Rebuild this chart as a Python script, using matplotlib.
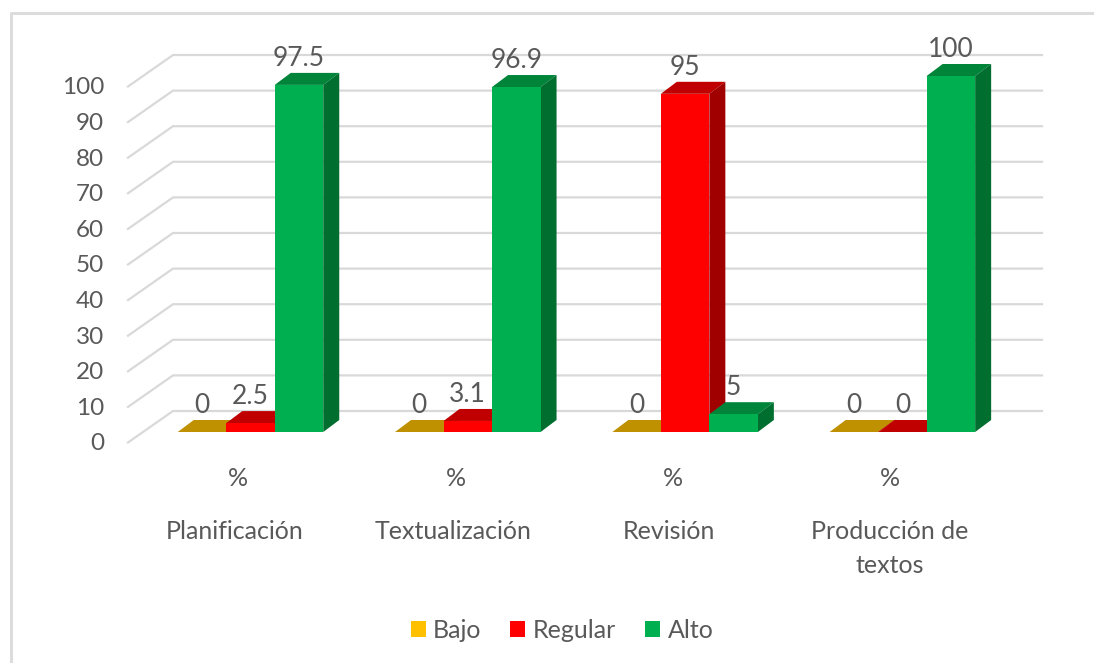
import matplotlib
matplotlib.use("Agg")
import matplotlib.pyplot as plt
from matplotlib.patches import Polygon, Patch
from matplotlib.lines import Line2D

categories = ["Planificación", "Textualización", "Revisión", "Producción de\ntextos"]
sublabels = ["%", "%", "%", "%"]
series_names = ["Bajo", "Regular", "Alto"]
bajo = [0, 0, 0, 0]
regular = [2.5, 3.1, 95, 0]
alto = [97.5, 96.9, 5, 100]
y_ticks = [0, 10, 20, 30, 40, 50, 60, 70, 80, 90, 100]

front_colors = ["#FFC000", "#FF0000", "#00B050"]
top_colors = ["#BF9000", "#C00000", "#00843A"]
side_colors = ["#BF9000", "#A00000", "#006E2E"]
text_color = "#595959"
grid_color = "#D9D9D9"

plt.rcParams["font.family"] = ["Lato", "DejaVu Sans"]

W, H = 1094, 663
# scale of the front plane, in pixels
PX_CAT = 217.3
PX_VAL = 3.56
X0, Y0 = 250.5, 432

fig = plt.figure(figsize=(W / 100, H / 100), dpi=100)
ax = fig.add_axes([0, 0, 1, 1])
ax.set_xlim(-X0 / PX_CAT, (W - X0) / PX_CAT)
ax.set_ylim((Y0 - H) / PX_VAL, Y0 / PX_VAL)
ax.axis("off")

# frame of the chart area
fig.add_artist(Line2D([11 / W, 11 / W, 1], [0, 1 - 13 / H, 1 - 13 / H], color="#DCDCDC", lw=2.2))

# fake 3D depth, all in pixels
bar_w = 48.5 / PX_CAT
depth_x = 16 / PX_CAT
depth_y = 12 / PX_VAL
axis_dx = (128 - X0) / PX_CAT
axis_dy = -10.5 / PX_VAL
back_dx = (173 - X0) / PX_CAT
back_dy = 21 / PX_VAL
right_dx = (1042 - X0) / PX_CAT

# gridlines on wall and floor
for v in y_ticks:
    ax.plot([axis_dx, back_dx, right_dx],
            [v + axis_dy, v + back_dy, v + back_dy],
            color=grid_color, lw=1.6, zorder=1, solid_joinstyle="miter")
    ax.text((104 - X0) / PX_CAT, v + axis_dy - 1.5 / PX_VAL, str(v), ha="right", va="center",
            fontsize=17.5, color=text_color)

# bars, series by series
for s, values in enumerate([bajo, regular, alto]):
    off = (s - 1) * bar_w
    for i, v in enumerate(values):
        left = i + off - bar_w / 2
        right = left + bar_w
        z = 3 + s + i * 4
        ax.add_patch(Polygon([(left, v), (right, v), (right + depth_x, v + depth_y),
                              (left + depth_x, v + depth_y)],
                             closed=True, fc=top_colors[s], ec="none", zorder=z))
        if v > 0:
            ax.add_patch(Polygon([(right, 0), (right + depth_x, depth_y),
                                  (right + depth_x, v + depth_y), (right, v)],
                                 closed=True, fc=side_colors[s], ec="none", zorder=z))
        else:
            ax.add_patch(Polygon([(right, 0), (right + depth_x, depth_y), (right, depth_y)],
                                 closed=True, fc=top_colors[s], ec="none", zorder=z))
        ax.bar(i + off, v, width=bar_w, color=front_colors[s], linewidth=0, zorder=z + 0.5)
        label = f"{v:g}"
        ax.text(i + off, v + 26.5 / PX_VAL, label, ha="center", va="center",
                fontsize=19, color=text_color, zorder=40)

# category labels
sub_x = [238, 456, 673, 890]
name_x = [235, 453, 669, 890]
for i, name in enumerate(categories):
    ax.text((sub_x[i] - X0) / PX_CAT, (Y0 - 478) / PX_VAL, sublabels[i], ha="center", va="center",
            fontsize=18, color=text_color)
    ax.text((name_x[i] - X0) / PX_CAT, (Y0 - 520) / PX_VAL, name, ha="center", va="top",
            fontsize=18, color=text_color, linespacing=1.56)

handles = [Patch(fc=c, ec="none", label=n) for c, n in zip(front_colors, series_names)]
fig.legend(handles=handles, loc="center", bbox_to_anchor=(562 / W, 1 - 630 / H), ncol=3,
           frameon=False, fontsize=18, labelcolor=text_color, handlelength=0.6, handleheight=0.6,
           handletextpad=0.3, columnspacing=1.15)

fig.savefig("out.png", dpi=100)
